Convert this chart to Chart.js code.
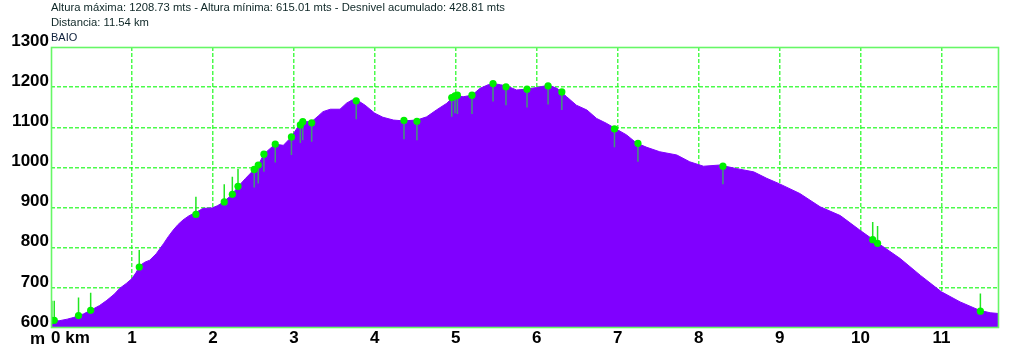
<!DOCTYPE html>
<html>
<head>
<meta charset="utf-8">
<script src="https://cdn.jsdelivr.net/npm/chart.js@4/dist/chart.umd.min.js"></script>
<style>
  html, body { margin: 0; padding: 0; background: #fff; }
  #wrap { position: relative; width: 1024px; height: 345px; overflow: hidden; }
  canvas { position: absolute; left: 0; top: 0; }
  .t { position: absolute; font-family: "Liberation Sans", Arial, sans-serif; white-space: nowrap; color: #0d2626; }
  #l1 { left: 51px; top: 1px; font-size: 11.25px; }
  #l2 { left: 51px; top: 16px; font-size: 11.25px; }
  #baio { left: 51px; top: 31px; font-size: 11px; color: #0d1f3a; }
  #unit { left: 30px; top: 329px; font-size: 17px; font-weight: bold; color: #000; }
</style>
</head>
<body>
<div id="wrap">
  <canvas id="c" width="1024" height="345"></canvas>
  <div class="t" id="l1">Altura máxima: 1208.73 mts - Altura mínima: 615.01 mts - Desnivel acumulado: 428.81 mts</div>
  <div class="t" id="l2">Distancia: 11.54 km</div>
  <div class="t" id="baio">BAIO</div>
  <div class="t" id="unit">m</div>
</div>
<script>
// Elevation profile (distance in km, elevation in m)
const profileKm = [0.00,0.10,0.20,0.275,0.40,0.49,0.60,0.69,0.78,0.85,0.93,1.00,1.05,1.10,1.16,1.22,1.30,1.39,1.45,1.51,1.57,1.63,1.70,1.80,1.88,1.99,2.06,2.13,2.23,2.31,2.40,2.50,2.56,2.63,2.70,2.77,2.87,2.97,3.03,3.08,3.14,3.22,3.30,3.36,3.45,3.57,3.65,3.72,3.78,3.88,4.00,4.10,4.23,4.35,4.52,4.64,4.76,4.89,4.99,5.09,5.20,5.30,5.40,5.46,5.55,5.63,5.75,5.88,6.00,6.15,6.25,6.37,6.49,6.62,6.74,6.86,6.97,7.11,7.23,7.36,7.52,7.73,7.89,8.06,8.26,8.47,8.68,8.84,9.00,9.25,9.50,9.75,9.99,10.24,10.49,10.74,11.00,11.23,11.47,11.60,11.71];
const profileElev = [617,618,622,626,635,644,656,669,684,699,711,723,738,756,764,769,785,810,828,844,858,869,879,889,898,899,905,914,931,952,972,993,1006,1033,1046,1058,1055,1076,1095,1110,1114,1114,1128,1139,1145,1145,1160,1168,1168,1155,1135,1125,1118,1116,1118,1126,1143,1160,1180,1176,1180,1197,1206,1209,1206,1203,1193,1195,1199,1205,1197,1176,1155,1143,1122,1110,1097,1081,1061,1050,1039,1031,1014,1003,1006,997,989,973,959,935,902,880,844,808,773,731,690,665,644,638,636];

// Waypoints (km, elevation, stem end elevation)
const waypointKm   = [0.01,0.04,0.34,0.49,1.09,1.79,2.14,2.24,2.31,2.51,2.56,2.63,2.77,2.97,3.08,3.11,3.22,3.77,4.36,4.52,4.95,4.99,5.02,5.20,5.46,5.62,5.88,6.14,6.31,6.96,7.25,8.30,10.15,10.21,11.48];
const waypointElev = [619,619,631,644,752,883,914,933,953,995,1006,1033,1058,1076,1106,1114,1111,1166,1117,1115,1174,1178,1180,1180,1209,1201,1195,1203,1188,1096,1060,1003,820,811,642];
const stemEndElev  = [668,668,676,688,794,927,958,977,996,950,960,989,1012,1031,1061,1068,1064,1120,1070,1068,1126,1135,1133,1133,1164,1155,1149,1157,1143,1050,1014,958,864,854,686];

// Axes
const xTickValues = [0,1,2,3,4,5,6,7,8,9,10,11,11.71];
const xTickLabels = ['0 km','1','2','3','4','5','6','7','8','9','10','11',''];
const xMax = 11.71;
const yMin = 600, yMax = 1300, yStep = 100;

const profileData = profileKm.map((k, i) => ({x: k, y: profileElev[i]}));
const markerData = waypointKm.map((k, i) => ({x: k, y: waypointElev[i]}));
const stemsUp = [], stemsDown = [];
waypointKm.forEach((k, i) => {
  const arr = stemEndElev[i] > waypointElev[i] ? stemsUp : stemsDown;
  arr.push({x: k, y: waypointElev[i]}, {x: k, y: stemEndElev[i]}, {x: k, y: null});
});

const GRID = 'rgba(30,250,30,0.8)';
const frame = {
  id: 'frame',
  afterDraw(chart) {
    const a = chart.chartArea, ctx = chart.ctx;
    ctx.save();
    ctx.strokeStyle = '#66f766';
    ctx.lineWidth = 1.6;
    ctx.strokeRect(a.left + 0.5, a.top + 0.5, a.right - a.left - 1, a.bottom - a.top - 1);
    ctx.restore();
  }
};

new Chart(document.getElementById('c'), {
  type: 'line',
  data: {
    datasets: [
      { data: markerData, showLine: false, pointRadius: 3.6, pointBackgroundColor: '#00f000', pointBorderWidth: 0, order: 1 },
      { data: stemsUp, borderColor: '#22e622', borderWidth: 1.5, pointRadius: 0, spanGaps: false, order: 2 },
      { data: stemsDown, borderColor: 'rgba(40,220,60,0.7)', borderWidth: 1.5, pointRadius: 0, spanGaps: false, order: 2 },
      { data: profileData, borderColor: '#8000ff', backgroundColor: '#8000ff', borderWidth: 1, pointRadius: 0, fill: 'start', tension: 0, order: 3 }
    ]
  },
  options: {
    responsive: false,
    animation: false,
    devicePixelRatio: 1,
    layout: { padding: { top: 47, right: 25, left: 0, bottom: 0 } },
    plugins: { legend: { display: false }, tooltip: { enabled: false } },
    scales: {
      x: {
        type: 'linear', min: 0, max: xMax, z: 1,
        afterFit: s => { s.height = 17; },
        afterBuildTicks: s => { s.ticks = xTickValues.map(v => ({value: v})); },
        grid: { color: c => (c.tick && c.tick.value > 0 && c.tick.value < xMax) ? GRID : 'rgba(0,0,0,0)', lineWidth: 1.5, drawTicks: false },
        border: { display: false, dash: [4, 2] },
        ticks: {
          align: 'inner', maxRotation: 0, autoSkip: false, padding: 0, color: '#000',
          font: { family: '"Liberation Sans", Arial, sans-serif', size: 17, weight: 'bold' },
          callback: (v) => { const i = xTickValues.indexOf(v); return i >= 0 ? xTickLabels[i] : ''; }
        }
      },
      y: {
        type: 'linear', min: yMin, max: yMax, z: 1,
        afterFit: s => { s.width = 51; },
        grid: { color: c => (c.tick && c.tick.value > yMin && c.tick.value < yMax) ? GRID : 'rgba(0,0,0,0)', lineWidth: 1.5, drawTicks: false },
        border: { display: false, dash: [4, 2] },
        ticks: {
          stepSize: yStep, padding: 2, labelOffset: -6, color: '#000',
          font: { family: '"Liberation Sans", Arial, sans-serif', size: 17, weight: 'bold' },
          callback: (v) => String(v)
        }
      }
    }
  },
  plugins: [frame]
});
</script>
</body>
</html>
